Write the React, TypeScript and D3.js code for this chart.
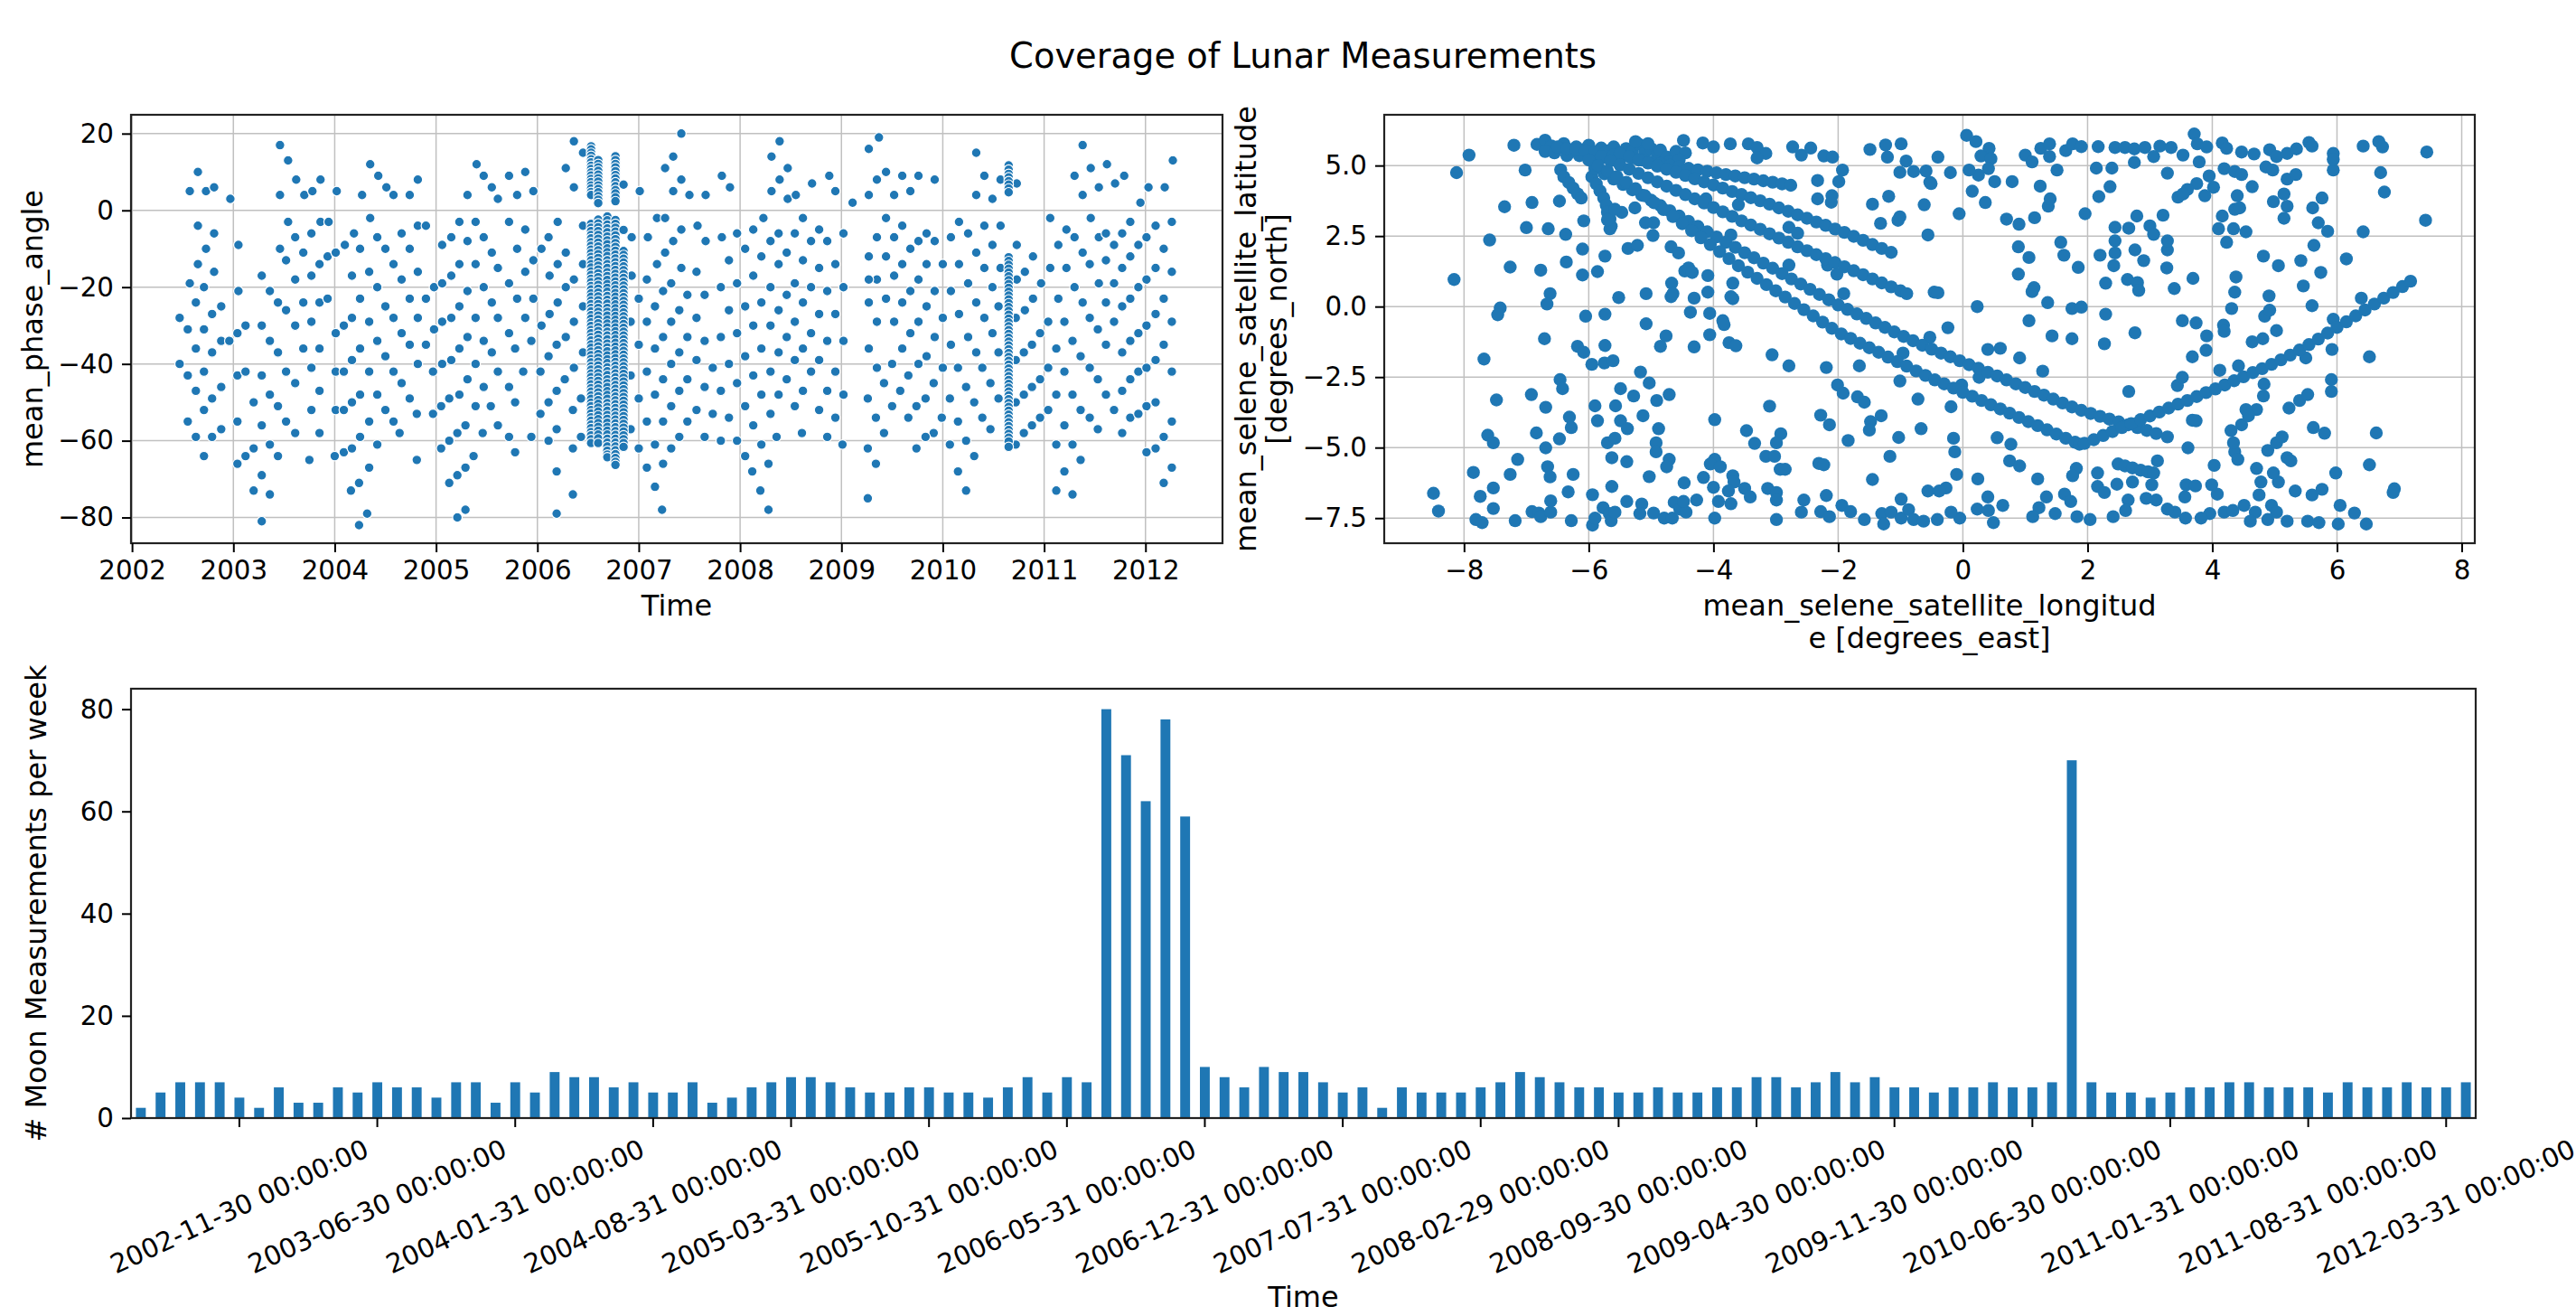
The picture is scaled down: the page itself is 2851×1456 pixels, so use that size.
import React, { useEffect, useRef } from 'react';
import * as d3 from 'd3';

const BLUE = '#1f77b4';
const FONT = "'DejaVu Sans', sans-serif";
const chartTitle = 'Coverage of Lunar Measurements';

// ---------- top left: mean phase angle vs time  [decimal year, degrees] ----------
const phase2002to2005: [number, number][] = [
  [2002.65,10],[2002.57,5],[2002.73,5],[2002.81,6],[2002.97,3],
  [2003.46,17],[2003.54,13],[2003.62,8],[2003.46,4],[2003.70,4],[2003.78,5],[2003.86,8],[2004.02,5],
  [2004.35,12],[2004.43,9],[2004.51,6],[2004.58,4],[2004.27,4],[2004.74,4],[2004.82,8],
  [2005.40,12],[2005.47,9],[2005.55,6],[2005.61,3],[2005.31,4],
  [2002.65,-4],[2002.81,-6],[2002.73,-10],[2002.65,-14],[2002.81,-16],[2002.57,-19],[2002.71,-20],[2002.63,-24],[2002.88,-25],[2002.79,-27],
  [2002.47,-28],[2002.55,-31],[2002.71,-31],[2002.63,-36],[2002.88,-34],[2002.96,-34],[2002.79,-37],[2002.47,-40],[2002.55,-43],[2002.71,-42],
  [2002.63,-47],[2002.88,-46],[2002.79,-49],[2002.71,-52],[2002.55,-55],[2002.63,-59],[2002.79,-59],[2002.88,-57],[2002.71,-64],
  [2003.05,-9],[2003.05,-21],[2003.12,-30],[2003.04,-32],[2003.04,-43],[2003.12,-42],[2003.20,-50],[2003.04,-55],[2003.20,-62],[2003.12,-64],
  [2003.04,-66],[2003.28,-69],[2003.20,-73],[2003.36,-74],[2003.28,-81],[2003.28,-17],[2003.36,-21],[2003.28,-30],[2003.36,-34],[2003.28,-43],
  [2003.36,-48],[2003.28,-56],[2003.36,-61],[2003.44,-24],[2003.52,-26],[2003.44,-37],[2003.52,-42],[2003.44,-51],[2003.52,-55],[2003.44,-64],
  [2003.61,-58],[2003.61,-45],[2003.61,-30],[2003.61,-18],[2003.54,-3],[2003.61,-7],[2003.46,-10],[2003.52,-13],[2003.69,-11],[2003.69,-24],
  [2003.69,-36],[2003.77,-6],[2003.77,-17],[2003.77,-29],[2003.77,-41],[2003.77,-52],[2003.75,-65],[2003.85,-14],[2003.85,-24],[2003.85,-36],
  [2003.85,-47],[2003.85,-58],[2003.86,-3],[2003.94,-3],[2003.93,-12],[2003.93,-23],
  [2004.01,-11],[2004.10,-9],[2004.19,-6],[2004.01,-32],[2004.09,-30],[2004.17,-28],[2004.01,-42],[2004.09,-42],[2004.17,-39],[2004.01,-52],
  [2004.09,-52],[2004.17,-50],[2004.00,-64],[2004.09,-63],[2004.17,-62],[2004.16,-73],[2004.24,-71],[2004.24,-82],[2004.32,-79],[2004.25,-59],
  [2004.34,-67],[2004.34,-55],[2004.25,-48],[2004.25,-36],[2004.25,-23],[2004.25,-10],[2004.17,-17],[2004.34,-16],[2004.34,-29],[2004.34,-42],
  [2004.35,-2],[2004.42,-7],[2004.42,-20],[2004.42,-34],[2004.42,-48],[2004.42,-61],[2004.50,-10],[2004.50,-25],[2004.50,-38],[2004.50,-52],
  [2004.58,-14],[2004.58,-28],[2004.58,-42],[2004.58,-55],[2004.64,-58],[2004.66,-6],[2004.66,-18],[2004.66,-32],[2004.66,-45],[2004.74,-10],
  [2004.74,-23],[2004.74,-35],[2004.74,-49],[2004.82,-16],[2004.82,-28],[2004.82,-40],[2004.81,-53],[2004.81,-65],[2004.82,-4],[2004.90,-4],
  [2004.90,-23],[2004.90,-35],[2004.97,-42],[2004.97,-53],[2004.98,-20],[2004.98,-31],
  [2005.06,-9],[2005.15,-7],[2005.23,-3],[2005.06,-19],[2005.15,-17],[2005.23,-14],[2005.06,-29],[2005.15,-28],[2005.23,-25],[2005.06,-40],
  [2005.15,-39],[2005.23,-36],[2005.05,-51],[2005.13,-49],[2005.23,-48],[2005.05,-62],[2005.13,-60],[2005.21,-58],[2005.29,-56],[2005.37,-64],
  [2005.29,-67],[2005.21,-69],[2005.13,-71],[2005.21,-80],[2005.29,-78],[2005.31,-8],[2005.31,-21],[2005.31,-33],[2005.31,-44],[2005.39,-3],
  [2005.39,-14],[2005.39,-28],[2005.39,-40],[2005.39,-51],[2005.46,-58],[2005.47,-7],[2005.47,-20],[2005.47,-34],[2005.47,-46],[2005.54,-51],
  [2005.55,-11],[2005.55,-24],[2005.55,-37],[2005.61,-15],[2005.61,-28],[2005.61,-42],[2005.61,-56],
];

const phase2005to2009: [number, number][] = [
  [2005.72,9],[2005.80,4],[2005.88,10],[2005.96,5],
  [2005.72,-3],[2005.88,-5],[2005.80,-10],[2005.96,-13],[2005.88,-16],[2005.72,-19],[2005.80,-23],[2005.96,-23],[2005.88,-28],[2005.72,-32],
  [2005.78,-36],[2005.94,-34],[2005.86,-42],[2005.72,-46],[2005.78,-50],[2006.03,-42],[2006.03,-53],[2005.94,-59],[2005.72,-59],[2005.78,-63],
  [2006.04,-10],[2006.11,-7],[2006.20,-3],
  [2006.36,18],[2006.28,11],[2006.36,6],[2006.45,15],[2007.01,5],
  [2006.28,-11],[2006.20,-14],[2006.12,-17],[2006.36,-18],[2006.45,-14],[2006.28,-20],[2006.20,-24],[2006.12,-27],[2006.04,-30],[2006.36,-29],
  [2006.45,-25],[2006.28,-33],[2006.19,-35],[2006.11,-38],[2006.36,-41],[2006.45,-37],[2006.27,-44],[2006.19,-47],[2006.11,-50],[2006.35,-52],
  [2006.43,-49],[2006.19,-57],[2006.11,-60],[2006.35,-62],[2006.43,-59],[2006.19,-68],[2006.35,-74],[2006.19,-79],
  [2006.45,-4],[2006.93,-7],[2006.93,-17],[2006.92,-29],[2006.92,-43],[2006.92,-57],[2007.00,-23],[2007.00,-35],[2007.00,-49],[2007.00,-62],
  [2007.42,20],[2007.34,14],[2007.26,11],[2007.42,8],[2007.34,5],[2007.50,4],[2007.66,4],[2007.82,9],[2007.90,6],
  [2007.18,-2],[2007.26,-2],[2007.09,-7],[2007.42,-5],[2007.34,-8],[2007.26,-11],[2007.18,-14],[2007.08,-18],[2007.32,-19],[2007.42,-15],
  [2007.58,-4],[2007.66,-8],[2007.82,-7],[2007.97,-6],[2007.89,-13],[2007.57,-16],[2007.24,-21],[2007.16,-25],[2007.08,-29],[2007.32,-29],
  [2007.40,-26],[2007.48,-22],[2007.65,-22],[2007.81,-20],[2007.97,-19],[2007.57,-28],[2007.89,-26],[2007.24,-33],[2007.16,-36],[2007.08,-42],
  [2007.32,-40],[2007.40,-37],[2007.48,-33],[2007.65,-34],[2007.81,-33],[2007.97,-32],[2007.57,-39],[2007.73,-41],[2007.89,-40],[2007.24,-44],
  [2007.16,-48],[2007.08,-55],[2007.32,-51],[2007.40,-47],[2007.48,-44],[2007.65,-46],[2007.81,-47],[2007.97,-45],[2007.57,-52],[2007.73,-53],
  [2007.89,-54],[2007.24,-55],[2007.16,-61],[2007.08,-67],[2007.32,-62],[2007.40,-59],[2007.48,-55],[2007.65,-59],[2007.81,-60],[2007.97,-60],
  [2007.24,-66],[2007.16,-72],[2007.23,-78],
  [2008.39,18],[2008.31,14],[2008.47,11],[2008.39,8],[2008.31,5],[2008.47,3],[2008.55,4],[2008.71,7],[2008.88,9],[2008.94,5],[2009.11,2],
  [2008.23,-2],[2008.13,-5],[2008.38,-6],[2008.30,-8],[2008.05,-10],[2008.21,-12],[2008.46,-11],[2008.38,-14],[2008.13,-17],[2008.30,-20],
  [2008.54,-6],[2008.62,-2],[2008.78,-5],[2008.70,-8],[2008.86,-8],[2008.62,-13],[2008.78,-15],[2008.94,-14],[2008.54,-19],[2008.70,-20],
  [2008.86,-21],[2009.02,-6],[2009.02,-20],[2008.05,-25],[2008.21,-24],[2008.38,-26],[2008.46,-22],[2008.30,-30],[2008.13,-30],[2008.54,-29],
  [2008.62,-24],[2008.78,-27],[2008.94,-27],[2008.70,-32],[2008.05,-38],[2008.21,-36],[2008.38,-37],[2008.46,-33],[2008.30,-42],[2008.13,-43],
  [2008.54,-39],[2008.62,-36],[2008.78,-39],[2008.86,-34],[2009.02,-34],[2008.70,-42],[2008.94,-42],[2008.05,-51],[2008.21,-48],[2008.38,-48],
  [2008.46,-44],[2008.30,-53],[2008.13,-56],[2008.54,-51],[2008.62,-47],[2008.78,-52],[2008.86,-47],[2008.94,-54],[2009.02,-48],[2008.61,-58],
  [2008.05,-64],[2008.12,-68],[2008.20,-73],[2008.28,-78],[2008.21,-61],[2008.28,-66],[2008.36,-59],[2008.86,-59],[2009.01,-61],
];

const phase2009to2012: [number, number][] = [
  [2009.37,19],[2009.27,16],[2009.44,10],[2009.35,8],[2009.27,4],[2009.52,4],[2009.60,9],[2009.68,5],[2009.76,9],[2009.92,8],
  [2010.33,15],[2010.41,9],[2010.33,4],[2010.49,3],[2010.57,8],[2010.73,7],
  [2011.38,17],[2011.30,9],[2011.46,11],[2011.38,4],[2011.54,6],[2011.62,12],[2011.70,7],[2011.79,9],[2011.95,2],[2012.03,6],[2012.19,6],[2012.27,13],
  [2009.44,-2],[2009.35,-7],[2009.27,-12],[2009.52,-7],[2009.60,-4],[2009.68,-10],[2009.76,-8],[2009.84,-6],[2009.92,-8],[2009.44,-12],
  [2009.60,-14],[2009.35,-18],[2009.27,-18],[2009.52,-17],[2009.76,-18],[2009.84,-14],[2009.68,-21],[2009.60,-24],[2009.44,-23],[2009.27,-24],
  [2009.92,-21],[2009.84,-25],[2009.76,-29],[2009.68,-32],[2009.52,-29],[2009.35,-29],[2009.27,-36],[2009.60,-36],[2009.92,-33],[2009.84,-38],
  [2009.76,-40],[2009.66,-43],[2009.50,-40],[2009.35,-41],[2009.42,-45],[2009.58,-47],[2009.91,-45],[2009.26,-49],[2009.83,-49],[2009.74,-51],
  [2009.66,-54],[2009.50,-51],[2009.34,-54],[2009.42,-58],[2009.91,-58],[2009.83,-59],[2009.74,-62],[2009.26,-62],[2009.34,-66],[2009.26,-75],
  [2009.99,-54],[2010.00,-14],[2010.00,-28],[2010.00,-41],
  [2010.08,-7],[2010.16,-3],[2010.25,-6],[2010.33,-11],[2010.41,-4],[2010.49,-9],[2010.57,-4],[2010.73,-9],[2010.08,-21],[2010.16,-14],
  [2010.25,-19],[2010.33,-24],[2010.41,-15],[2010.49,-20],[2010.57,-15],[2010.81,-16],[2010.89,-12],[2010.73,-18],[2010.08,-35],[2010.16,-27],
  [2010.25,-33],[2010.33,-37],[2010.41,-28],[2010.49,-32],[2010.55,-25],[2010.81,-26],[2010.89,-23],[2010.97,-19],[2010.72,-28],[2010.07,-49],
  [2010.15,-41],[2010.23,-46],[2010.31,-50],[2010.39,-41],[2010.47,-45],[2010.55,-37],[2010.80,-37],[2010.88,-35],[2010.96,-32],[2010.72,-39],
  [2010.15,-55],[2010.23,-60],[2010.31,-64],[2010.39,-54],[2010.47,-57],[2010.55,-49],[2010.80,-48],[2010.88,-46],[2010.96,-44],[2010.72,-50],
  [2010.15,-68],[2010.23,-73],[2010.07,-61],[2010.80,-58],[2010.88,-56],[2010.96,-54],[2010.72,-61],
  [2011.06,-2],[2011.14,-9],[2011.22,-5],[2011.30,-7],[2011.38,-11],[2011.46,-2],[2011.06,-15],[2011.22,-15],[2011.30,-20],[2011.38,-24],
  [2011.45,-14],[2011.14,-23],[2011.04,-29],[2011.20,-29],[2011.28,-34],[2011.36,-38],[2011.45,-28],[2011.12,-36],[2011.04,-41],[2011.20,-42],
  [2011.28,-48],[2011.36,-52],[2011.45,-41],[2011.53,-31],[2011.12,-48],[2011.04,-52],[2011.20,-56],[2011.28,-61],[2011.36,-65],[2011.45,-54],
  [2011.53,-44],[2011.53,-57],[2011.12,-61],[2011.20,-68],[2011.12,-73],[2011.28,-74],[2011.54,-7],[2011.54,-19],[2011.61,-6],[2011.69,-9],
  [2011.61,-13],[2011.69,-19],[2011.61,-24],[2011.69,-29],[2011.61,-35],[2011.69,-52],[2011.61,-48],[2011.77,-6],[2011.77,-15],[2011.77,-25],
  [2011.77,-37],[2011.77,-47],[2011.77,-58],[2011.85,-3],[2011.85,-12],[2011.85,-23],[2011.85,-34],[2011.85,-44],[2011.85,-54],[2011.93,-9],
  [2011.93,-20],[2011.93,-32],[2011.93,-42],[2011.93,-53],[2012.01,-7],[2012.01,-18],[2012.01,-30],[2012.01,-41],[2012.01,-51],[2012.01,-63],
  [2012.10,-4],[2012.10,-15],[2012.10,-27],[2012.10,-39],[2012.10,-50],[2012.10,-62],[2012.18,-10],[2012.18,-23],[2012.18,-35],[2012.18,-59],
  [2012.18,-71],[2012.26,-3],[2012.26,-16],[2012.26,-29],[2012.26,-42],[2012.26,-55],[2012.26,-67],
];

// dense campaign months: stacked measurements at (nearly) one time
const denseTimes = [2006.53, 2006.60, 2006.69, 2006.77, 2006.85, 2010.65];
const dense2006Jul = [16.7,15.9,15.0,14.2,13.3,12.5,11.6,10.8,9.9,9.1,8.2,7.4,6.5,5.7,4.8,4.0,
  -3.5,-4.5,-5.4,-6.4,-7.3,-8.3,-9.2,-10.2,-11.1,-12.1,-13.0,-14.0,-14.9,-15.9,-16.8,-17.8,-18.7,-19.7,-20.6,-21.6,
  -22.5,-23.5,-24.4,-25.4,-26.3,-27.3,-28.2,-29.2,-30.1,-31.1,-32.0,-33.0,-33.9,-34.9,-35.8,-36.8,-37.7,-38.7,-39.6,
  -40.6,-41.5,-42.5,-43.4,-44.4,-45.3,-46.3,-47.2,-48.2,-49.1,-50.1,-51.0,-52.0,-52.9,-53.9,-54.8,-55.8,-56.7,-57.7,
  -58.6,-59.6,-60.6];
const dense2006Aug = [13.1,12.1,11.2,10.3,9.3,8.4,7.5,6.5,5.6,4.7,3.7,2.8,1.9,
  -2.4,-3.4,-4.4,-5.4,-6.4,-7.4,-8.4,-9.4,-10.4,-11.4,-12.4,-13.4,-14.4,-15.4,-16.4,-17.4,-18.4,-19.4,-20.4,-21.4,
  -22.4,-23.4,-24.4,-25.4,-26.4,-27.4,-28.4,-29.4,-30.4,-31.4,-32.4,-33.4,-34.4,-35.4,-36.4,-37.4,-38.4,-39.4,-40.4,
  -41.4,-42.4,-43.4,-44.4,-45.4,-46.4,-47.4,-48.4,-49.4,-50.4,-51.4,-52.4,-53.4,-54.4,-55.4,-56.4,-57.4,-58.4,-59.4,-60.6];
const dense2006Sep = [-1.6,-2.6,-3.7,-4.7,-5.7,-6.8,-7.8,-8.8,-9.9,-10.9,-11.9,-13.0,-14.0,-15.0,-16.1,-17.1,-18.1,
  -19.2,-20.2,-21.2,-22.3,-23.3,-24.3,-25.4,-26.4,-27.4,-28.5,-29.5,-30.5,-31.6,-32.6,-33.6,-34.7,-35.7,-36.7,-37.8,
  -38.8,-39.8,-40.9,-41.9,-42.9,-44.0,-45.0,-46.0,-47.1,-48.1,-49.1,-50.2,-51.2,-52.2,-53.3,-54.3,-55.3,-56.4,-57.4,
  -58.4,-59.5,-60.5,-61.5,-62.6,-63.6,-64.3];
const dense2006Oct = [14.1,13.1,12.1,11.2,10.2,9.2,8.3,7.3,6.3,5.3,4.4,3.4,2.4,
  -2.5,-3.5,-4.5,-5.5,-6.5,-7.5,-8.5,-9.5,-10.5,-11.5,-12.5,-13.5,-14.5,-15.5,-16.5,-17.5,-18.5,-19.5,-20.5,-21.5,
  -22.5,-23.5,-24.5,-25.5,-26.5,-27.5,-28.5,-29.5,-30.5,-31.5,-32.5,-33.5,-34.5,-35.5,-36.5,-37.5,-38.5,-39.5,-40.5,
  -41.5,-42.5,-43.5,-44.5,-45.5,-46.5,-47.5,-48.5,-49.5,-50.5,-51.5,-52.5,-53.5,-54.5,-55.5,-56.5,-57.5,-58.5,-59.5,
  -60.5,-61.5,-62.5,-63.5,-64.5,-65.5,-66.3];
const dense2006Nov = [6.7,-5.1,-10.6,-11.6,-12.6,-13.6,-14.6,-15.6,-16.6,-17.6,-18.6,-19.6,-20.6,-21.6,-22.6,-23.6,
  -24.6,-25.6,-26.6,-27.6,-28.6,-29.6,-30.6,-31.6,-32.6,-33.6,-34.6,-35.6,-36.6,-37.6,-38.6,-39.6,-40.6,-41.6,-42.6,
  -43.6,-44.6,-45.6,-46.6,-47.6,-48.6,-49.6,-50.6,-51.6,-52.6,-53.6,-54.6,-55.6,-56.6,-57.6,-58.6,-59.6,-60.6,-61.6];
const dense2010Aug = [11.7,10.6,9.5,8.6,7.6,6.7,5.7,4.7,
  -12.2,-13.2,-14.2,-15.2,-16.2,-17.2,-18.2,-19.2,-20.2,-21.2,-22.2,-23.2,-24.2,-25.2,-26.2,-27.2,-28.2,-29.2,-30.2,
  -31.2,-32.2,-33.2,-34.2,-35.2,-36.2,-37.2,-38.2,-39.2,-40.2,-41.2,-42.2,-43.2,-44.2,-45.2,-46.2,-47.2,-48.2,-49.2,
  -50.2,-51.2,-52.2,-53.2,-54.2,-55.2,-56.2,-57.2,-58.2,-59.2,-60.2,-61.6];
const denseColumns = [dense2006Jul, dense2006Aug, dense2006Sep, dense2006Oct, dense2006Nov, dense2010Aug];

// ---------- top right: selene satellite longitude / latitude [deg east, deg north] ----------
const libTopCluster: [number, number][] = [
  [-6.83,5.75],[-6.7,5.9],[-6.6,5.7],[-6.5,5.6],[-6.4,5.78],[-6.3,5.5],[-6.2,5.66],[-6.1,5.56],[-6.0,5.72],[-5.9,5.45],
  [-5.8,5.62],[-5.7,5.52],[-5.6,5.66],[-5.5,5.45],[-5.4,5.6],[-5.3,5.5],[-5.2,5.76],[-5.1,5.45],[-5.0,5.6],[-4.9,5.4],
  [-4.85,5.55],[-6.7,5.5],[-6.55,5.45],[-6.35,5.35],[-6.15,5.35],[-5.95,5.3],[-5.75,5.3],[-5.55,5.25],[-4.75,5.3],[-4.7,5.15],
  [-4.6,5.5],[-4.45,5.45],[-5.25,5.85],[-5.05,5.78],[-4.55,5.2],
  [-6.45,4.85],[-6.4,4.6],[-6.32,4.4],[-6.25,4.2],[-6.18,4.0],[-6.12,3.85],[-5.95,4.6],[-5.88,4.35],[-5.82,4.1],[-5.76,3.85],
  [-5.72,3.6],[-5.7,3.35],[-5.66,3.1],[-5.64,2.85],
];
const libWest: [number, number][] = [
  [-7.92,5.37],[-8.12,4.75],[-7.2,5.72],[-7.02,4.84],[-8.16,0.96],[-7.35,3.54],[-6.91,3.69],[-6.47,3.74],[-7.0,2.8],[-6.65,2.76],
  [-6.37,2.56],[-7.59,2.36],[-6.08,3.04],[-7.26,1.4],[-6.77,1.29],[-6.36,1.58],[-6.1,2.04],[-6.1,1.12],[-5.86,1.24],[-5.74,1.79],
  [-6.62,0.46],[-6.67,0.09],[-7.42,-0.05],[-7.46,-0.29],[-6.05,-0.34],[-5.74,-0.27],[-5.52,0.32],[-5.08,0.46],[-4.67,0.83],[-4.68,0.35],
  [-4.31,0.3],[-4.37,-0.2],[-4.06,-0.24],[-4.09,0.51],[-4.46,1.26],[-4.09,1.1],[-3.69,0.83],[-3.69,0.28],[-3.85,-0.5],[-3.83,-0.64],
  [-5.08,-0.61],[-6.71,-1.14],[-7.68,-1.86],[-6.18,-1.41],[-6.08,-1.62],[-5.95,-2.05],[-5.75,-2.0],[-5.61,-1.92],[-5.74,-1.38],[-4.76,-1.04],
  [-4.85,-1.41],[-4.31,-1.43],[-4.06,-1.0],[-3.75,-1.28],[-3.64,-1.39],[-3.06,-1.71],[-2.79,-2.1],[-2.19,-2.16],[-1.66,-2.1],[-0.96,-1.65],
  [-6.46,-2.59],[-6.42,-2.91],[-6.92,-3.12],[-7.48,-3.31],[-6.69,-3.57],[-5.9,-3.52],[-5.57,-3.52],[-5.86,-4.05],[-5.49,-4.05],[-5.38,-4.33],
  [-5.17,-2.32],[-5.03,-2.71],[-5.49,-2.91],[-5.28,-3.17],[-4.91,-3.33],[-4.71,-3.12],[-5.13,-3.87],[-4.88,-4.33],[-6.31,-3.92],[-6.28,-4.29],
  [-6.84,-4.48],[-6.47,-4.69],[-7.62,-4.56],[-7.53,-4.83],[-6.69,-5.01],[-7.14,-5.42],[-7.85,-5.88],[-7.26,-5.95],[-6.66,-5.68],[-6.62,-6.04],
  [-6.25,-5.95],[-5.63,-5.36],[-5.7,-4.83],[-5.58,-4.67],[-5.39,-5.5],[-4.92,-4.83],[-4.92,-5.15],[-4.71,-5.42],[-4.75,-5.68],[-5.03,-6.03],
  [-4.47,-6.25],[-3.98,-4.01],[-3.47,-4.4],[-3.34,-4.85],[-3.1,-3.53],[-2.92,-4.51],[-2.99,-4.83],[-3.16,-5.31],[-2.93,-5.77],[-2.85,-5.77],
  [-2.28,-3.85],[-2.14,-4.19],[-1.84,-4.75],[-1.48,-4.08],[-1.5,-4.38],[-1.31,-3.87],[-1.03,-4.64],[-1.17,-5.31],[-1.45,-6.13],[-2.31,-5.56],
  [-2.23,-5.61],[-2.01,-2.78],[-1.92,-3.07],[-1.69,-3.2],[-1.58,-3.39],[-1.01,-2.64],[-0.72,-3.28],[-0.67,-4.33],[-0.56,-6.54],[-0.99,-6.83],
  [-3.02,-5.31],
  [-8.49,-6.62],[-8.41,-7.25],[-7.74,-6.73],[-7.53,-7.16],[-7.53,-6.43],[-7.81,-7.55],[-7.71,-7.66],[-7.18,-7.59],[-6.91,-7.27],[-6.8,-7.32],
  [-6.77,-7.45],[-6.61,-7.29],[-6.61,-6.89],[-6.28,-7.59],[-6.33,-6.57],[-5.94,-7.75],[-5.9,-7.5],[-5.94,-6.67],[-5.77,-7.13],[-5.67,-7.34],
  [-5.64,-7.59],[-5.58,-7.29],[-5.63,-6.38],[-5.39,-6.91],[-5.15,-7.0],[-5.18,-7.34],[-4.96,-7.32],[-4.79,-7.5],[-4.66,-7.5],[-4.63,-6.94],
  [-4.54,-7.18],[-4.44,-7.29],[-4.48,-6.91],[-4.27,-6.86],[-3.98,-7.5],[-4.0,-6.41],[-3.98,-5.42],[-4.16,-6.06],[-4.05,-5.58],[-3.89,-5.68],
  [-3.92,-6.91],[-3.72,-6.99],[-3.69,-6.0],[-3.67,-6.22],[-3.76,-6.54],[-3.5,-6.45],[-3.41,-6.75],[-3.13,-6.45],[-2.99,-6.59],[-2.99,-7.55],
  [-2.99,-6.86],[-2.59,-7.29],[-2.55,-6.86],[-2.28,-7.27],[-2.19,-6.7],[-2.14,-7.45],[-1.94,-7.05],[-1.8,-7.27],[-1.58,-7.55],[-1.3,-7.34],
  [-1.27,-7.71],[-1.15,-7.29],[-0.99,-7.5],[-0.87,-7.2],[-0.79,-7.55],[-0.63,-7.61],
  [-4.48,5.89],[-4.17,5.8],[-4.0,5.66],[-3.73,5.77],[-3.44,5.77],[-3.3,5.64],[-3.16,5.43],[-3.3,5.27],[-2.73,5.66],[-2.59,5.37],
  [-2.44,5.62],[-2.23,5.34],[-2.09,5.3],[-1.93,4.84],[-1.99,4.43],[-2.33,4.47],[-2.33,3.82],[-2.11,3.7],[-2.1,3.93],[-1.49,5.57],
  [-1.24,5.73],[-1.21,5.3],[-0.99,5.77],[-0.91,5.16],[-1.01,4.76],[-0.79,4.79],[-0.59,4.81],[-0.53,4.41],[-1.19,3.91],[-1.45,3.63],
  [-1.32,2.95],[-1.01,3.18],[-1.04,3.06],[-0.62,3.61],[-0.56,2.54],[-2.17,1.47],[-2.02,1.15],[-1.91,0.46],[-0.46,0.51],[-0.53,-1.09],
  [-2.79,1.47],[-2.79,2.81],[-2.65,2.6],[-3.72,2.54],[-4.12,3.82],[-3.6,3.61],[-4.96,2.97],[-4.97,2.52],[-5.37,2.06],[-5.22,2.17],
  [-5.66,2.76],[-5.7,3.08],[-5.47,3.34],[-5.58,3.45],[-5.26,3.5],[-5.09,2.97],[-4.68,2.12],[-4.56,1.9],[-4.4,1.37],[-4.34,1.21],
  [-4.65,0.46],[-3.72,0.35],
];
const libEast: [number, number][] = [
  [0.06,6.07],[0.21,5.85],[0.42,5.61],[0.29,5.34],[0.45,5.24],[0.41,4.89],[0.25,4.66],[0.1,4.84],[-0.4,5.3],[-0.2,4.75],
  [-0.51,4.36],[-0.06,3.29],[0.15,4.09],[0.36,3.69],[0.51,4.43],[0.79,4.43],[0.7,3.1],[0.9,2.92],[1.15,3.15],[1.24,4.27],
  [1.37,3.56],[1.4,3.82],[1.51,4.84],[1.0,5.37],[1.11,5.13],[1.25,5.61],[1.39,5.77],[1.39,5.32],[1.65,5.53],[1.76,5.77],
  [1.9,5.67],[2.17,5.67],[2.14,4.91],[2.39,4.91],[2.36,4.25],[2.18,3.9],[1.96,3.29],[2.44,5.64],[2.6,5.64],[2.75,5.59],
  [2.75,5.11],[2.92,5.64],[3.06,5.32],[3.16,5.69],[3.34,5.64],[3.53,5.37],[3.28,4.73],[3.71,6.12],[3.76,5.77],[3.91,5.66],
  [3.79,5.13],[3.95,4.63],[4.02,4.23],[3.75,4.36],[3.88,3.93],[3.6,4.15],[3.45,3.88],[3.53,3.99],[4.16,5.8],[4.23,5.61],
  [4.19,4.89],[4.36,4.79],[4.47,5.48],[4.67,5.41],[4.47,4.68],[4.64,4.25],[4.4,3.93],[4.36,3.45],[4.44,3.5],[4.16,3.21],
  [4.1,2.76],[4.34,2.76],[4.54,2.65],[4.23,2.28],[4.92,5.56],[5.03,5.32],[5.2,5.43],[5.35,5.59],[5.55,5.82],[5.6,5.69],
  [4.86,4.95],[4.97,4.84],[5.2,4.52],[5.34,4.68],[5.15,3.99],[4.98,3.72],[5.2,3.56],[5.15,3.13],[5.61,3.5],[5.76,3.85],
  [5.7,2.97],[5.85,2.67],[5.63,2.17],[5.42,1.63],[5.74,1.21],[5.46,0.73],[5.6,0.03],[5.94,5.43],[5.94,4.84],[5.94,5.21],
  [6.42,5.69],[6.67,5.85],[6.73,5.66],[6.7,4.75],[6.76,4.06],[6.42,2.65],[6.15,1.69],[6.39,0.3],[7.44,5.48],[7.42,3.06],
  [4.82,1.79],[5.06,1.45],[4.91,0.38],[4.84,-0.34],[4.92,-0.13],[5.03,-0.85],[4.38,1.05],[4.36,0.51],[4.31,-0.07],[4.18,-0.66],
  [3.91,-1.04],[3.9,-1.55],[3.68,-1.78],[4.64,-1.25],[4.81,-1.14],[4.19,-0.88],[3.52,-0.5],[3.74,-0.58],[3.39,0.64],[3.69,1.0],
  [3.27,1.37],[3.28,2.01],[3.28,2.33],[2.9,1.63],[2.76,2.01],[2.66,2.78],[2.44,2.81],[3.0,2.86],[3.06,2.56],[2.79,3.21],
  [3.21,3.24],[2.44,2.33],[2.44,1.9],[2.2,1.82],[2.42,1.45],[2.64,0.96],[2.8,0.85],[2.82,0.57],[2.29,0.83],[1.85,1.39],
  [1.62,1.82],[1.57,2.28],[1.06,1.74],[0.89,2.12],[0.89,1.15],[1.14,0.67],[1.11,0.53],[1.36,0.14],[1.75,-0.07],[1.9,-0.02],
  [2.29,-0.27],[2.76,-0.93],[2.27,-1.32],[1.75,-1.14],[1.43,-1.04],[1.06,-0.5],[0.91,-1.82],[0.4,-1.52],[0.6,-1.48],[0.23,0.0],
  [-0.24,-0.75],[-0.4,0.49],[1.28,-2.29],[0.26,-2.51],[-0.02,-2.78],[2.66,-3.01],[3.44,-2.8],[3.52,-2.51],[3.68,-4.03],[3.61,-5.01],
  [4.12,-2.26],[4.42,-2.1],[4.83,-2.75],[4.82,-3.17],[4.71,-3.65],[5.91,-2.59],[5.91,-3.01],[5.92,-1.52],[5.94,-0.45],[5.5,-1.82],
  [5.4,-3.33],[5.53,-3.12],[5.62,-4.29],[5.8,-4.49],[6.52,-1.78],[6.63,-4.48],[6.52,-5.61],[6.92,-6.46],[6.9,-6.59],[5.98,-5.9],
  [6.05,-7.05],[6.02,-7.71],[6.28,-7.32],[6.47,-7.71],[5.6,-6.68],[5.76,-6.48],[5.33,-6.54],[5.06,-6.22],[4.98,-5.9],[4.78,-6.22],
  [4.71,-5.74],[4.75,-6.68],[4.95,-7.05],[5.03,-7.29],[5.2,-7.61],[5.53,-7.61],[5.71,-7.66],[4.89,-7.55],[4.69,-7.29],[4.61,-7.61],
  [4.51,-7.05],[4.19,-7.29],[4.33,-7.23],[3.96,-7.34],[3.82,-7.5],[3.57,-7.5],[3.4,-7.29],[3.28,-7.18],[3.56,-6.75],[3.58,-6.32],
  [3.73,-6.36],[3.99,-6.32],[4.08,-6.65],[4.03,-5.63],[4.36,-5.15],[4.41,-5.42],[4.3,-4.4],[4.34,-4.83],[4.47,-4.19],[4.54,-3.65],
  [4.58,-3.87],[4.89,-5.1],[5.03,-4.83],[5.12,-4.62],[5.2,-5.36],[5.26,-5.47],[5.23,-3.6],[3.74,-4.05],[2.72,-6.22],[3.03,-6.32],
  [3.12,-5.47],[2.65,-6.86],[2.61,-7.23],[2.94,-6.8],[3.1,-6.86],[2.41,-7.45],[2.16,-5.9],[2.16,-6.38],[2.27,-6.59],[2.47,-6.3],
  [2.04,-7.55],[1.83,-7.45],[1.82,-5.74],[1.76,-6.0],[1.63,-6.65],[1.73,-6.91],[1.34,-6.75],[1.22,-7.13],[1.12,-7.45],[1.48,-7.34],
  [1.2,-6.11],[0.77,-4.88],[0.75,-5.47],[0.91,-5.65],[0.55,-4.65],[0.24,-6.11],[0.4,-6.75],[0.23,-7.18],[0.41,-7.23],[0.49,-7.66],
  [0.64,-7.05],[-0.05,-7.5],[-0.19,-7.29],[-0.41,-7.55],[-0.1,-5.95],[-0.13,-5.15],[-0.15,-4.67],[-0.19,-3.55],[-0.27,-6.43],[-0.38,-6.54],
  [2.49,-5.58],[2.6,-5.65],[2.72,-5.72],[2.85,-5.8],[2.97,-5.86],[3.06,-5.9],
];
// dense campaign tracks
const trackAlpha: [number, number][] = [
  [-6.5,5.66],[-6.35,5.61],[-6.2,5.57],[-6.05,5.52],[-5.9,5.48],[-5.75,5.43],[-5.6,5.38],[-5.45,5.33],[-5.3,5.27],[-5.15,5.2],
  [-5.0,5.12],[-4.85,5.07],[-4.7,5.01],[-4.55,4.96],[-4.4,4.9],[-4.25,4.85],[-4.1,4.8],[-3.95,4.74],[-3.8,4.68],[-3.65,4.63],
  [-3.5,4.57],[-3.35,4.52],[-3.2,4.46],[-3.05,4.41],[-2.9,4.35],[-2.76,4.3],
];
const trackA2: [number, number][] = [
  [-5.5,5.42],[-5.35,5.31],[-5.2,5.2],[-5.05,5.09],[-4.9,4.98],[-4.75,4.87],[-4.6,4.76],[-4.45,4.65],[-4.3,4.53],[-4.15,4.42],
  [-4.0,4.31],[-3.85,4.2],[-3.7,4.08],[-3.55,3.97],[-3.4,3.86],[-3.25,3.75],[-3.1,3.63],[-2.95,3.5],[-2.8,3.38],[-2.65,3.25],
  [-2.5,3.13],[-2.35,3.0],[-2.2,2.88],[-2.05,2.75],[-1.9,2.63],[-1.75,2.49],[-1.6,2.35],[-1.45,2.2],[-1.3,2.06],[-1.15,1.92],
];
const trackBeta: [number, number][] = [
  [-5.8,5.32],[-5.65,5.17],[-5.5,5.02],[-5.35,4.87],[-5.2,4.72],[-5.05,4.57],[-4.9,4.42],[-4.75,4.27],[-4.6,4.12],[-4.45,3.97],
  [-4.3,3.82],[-4.15,3.67],[-4.0,3.51],[-3.85,3.36],[-3.7,3.2],[-3.55,3.04],[-3.4,2.89],[-3.25,2.74],[-3.1,2.58],[-2.95,2.43],
  [-2.8,2.28],[-2.65,2.12],[-2.5,1.98],[-2.35,1.84],[-2.2,1.7],[-2.05,1.56],[-1.9,1.41],[-1.75,1.27],[-1.6,1.13],[-1.45,0.98],
  [-1.3,0.84],[-1.15,0.7],[-1.0,0.56],[-0.9,0.46],
];
const trackGamma: [number, number][] = [
  [-5.9,4.9],[-5.75,4.71],[-5.6,4.52],[-5.45,4.33],[-5.3,4.14],[-5.15,3.95],[-5.0,3.77],[-4.85,3.58],[-4.7,3.4],[-4.55,3.21],
  [-4.4,3.02],[-4.25,2.84],[-4.1,2.65],[-3.95,2.47],[-3.8,2.28],[-3.65,2.1],[-3.5,1.91],[-3.35,1.73],[-3.2,1.54],[-3.05,1.36],
  [-2.9,1.17],[-2.75,0.98],[-2.6,0.8],[-2.45,0.61],[-2.3,0.43],[-2.15,0.24],[-2.0,0.06],[-1.85,-0.1],[-1.7,-0.26],[-1.55,-0.42],
  [-1.4,-0.58],[-1.25,-0.74],[-1.1,-0.9],[-0.95,-1.06],[-0.8,-1.21],[-0.65,-1.37],[-0.5,-1.51],[-0.35,-1.65],[-0.2,-1.78],[-0.05,-1.92],
  [0.1,-2.06],[0.25,-2.19],[0.4,-2.33],[0.55,-2.46],[0.7,-2.6],[0.85,-2.74],[1.0,-2.87],[1.15,-3.01],[1.3,-3.14],[1.45,-3.28],
  [1.6,-3.42],[1.75,-3.56],[1.9,-3.68],[2.05,-3.79],[2.2,-3.89],[2.35,-3.99],[2.5,-4.09],[2.65,-4.19],[2.8,-4.29],[2.95,-4.39],
  [3.1,-4.5],[3.28,-4.62],
];
const trackDelta: [number, number][] = [
  [-6.0,5.2],[-5.85,5.0],[-5.7,4.81],[-5.55,4.61],[-5.4,4.41],[-5.25,4.18],[-5.1,3.93],[-4.95,3.68],[-4.8,3.44],[-4.65,3.19],
  [-4.5,2.94],[-4.35,2.69],[-4.2,2.44],[-4.05,2.2],[-3.9,1.95],[-3.75,1.7],[-3.6,1.45],[-3.45,1.22],[-3.3,1.0],[-3.15,0.78],
  [-3.0,0.56],[-2.85,0.34],[-2.7,0.11],[-2.55,-0.11],[-2.4,-0.33],[-2.25,-0.55],[-2.1,-0.77],[-1.95,-0.97],[-1.8,-1.13],[-1.65,-1.3],
  [-1.5,-1.46],[-1.35,-1.62],[-1.2,-1.79],[-1.05,-1.95],[-0.9,-2.11],[-0.75,-2.28],[-0.6,-2.44],[-0.45,-2.6],[-0.3,-2.74],[-0.15,-2.89],
  [0.0,-3.04],[0.15,-3.18],[0.3,-3.33],[0.45,-3.48],[0.6,-3.63],[0.75,-3.78],[0.9,-3.93],[1.05,-4.08],[1.2,-4.22],[1.35,-4.37],
  [1.5,-4.52],[1.65,-4.67],[1.8,-4.81],[1.87,-4.88],
];
const trackRise: [number, number][] = [
  [1.95,-4.85],[2.1,-4.72],[2.25,-4.57],[2.4,-4.43],[2.55,-4.29],[2.7,-4.15],[2.85,-4.01],[3.0,-3.88],[3.15,-3.74],[3.3,-3.6],
  [3.45,-3.46],[3.6,-3.33],[3.75,-3.19],[3.9,-3.05],[4.05,-2.92],[4.2,-2.78],[4.35,-2.63],[4.5,-2.49],[4.65,-2.34],[4.8,-2.2],
  [4.95,-2.05],[5.1,-1.89],[5.25,-1.72],[5.4,-1.54],[5.55,-1.35],[5.7,-1.15],[5.85,-0.94],[6.0,-0.74],[6.15,-0.54],[6.3,-0.33],
  [6.45,-0.12],[6.6,0.09],[6.75,0.3],[6.9,0.5],[7.05,0.71],[7.18,0.9],
];

// ---------- bottom: measurements per month ----------
const monthlyCounts = [2,5,7,7,7,4,2,6,3,3,6,5,7,6,6,4,7,7,3,7,5,9,8,8,6,7,5,5,7,3,4,6,7,8,8,7,6,5,5,6,6,5,5,4,6,8,5,8,7,
  80,71,62,78,59,10,8,6,10,9,9,7,5,6,2,6,5,5,5,6,7,9,8,7,6,6,5,5,6,5,5,6,6,8,8,6,7,9,7,8,6,6,5,6,6,7,6,6,7,70,7,
  5,5,4,5,6,6,7,7,6,6,6,5,7,6,6,7,6,6,7];
const barTickLabels = ['2002-11-30','2003-06-30','2004-01-31','2004-08-31','2005-03-31','2005-10-31','2006-05-31',
  '2006-12-31','2007-07-31','2008-02-29','2008-09-30','2009-04-30','2009-11-30','2010-06-30','2011-01-31','2011-08-31','2012-03-31'];

const W = 2851, H = 1456;
const P1 = { left: 145, right: 1353, top: 127, bottom: 601 };
const P2 = { left: 1532, right: 2739, top: 127, bottom: 601 };
const P3 = { left: 145, right: 2740, top: 762, bottom: 1237 };
const TICK = 29.3, LABEL = 32;
const GRID = '#c0c0c0';

function styleAxis(g: any) {
  g.attr('font-size', TICK).attr('font-family', FONT);
  g.select('.domain').remove();
  g.selectAll('.tick line').attr('stroke', '#000').attr('stroke-width', 2);
  g.selectAll('.tick text').attr('fill', '#000');
}

export default function App() {
  const ref = useRef<SVGSVGElement>(null);

  useEffect(() => {
    const svg = d3.select(ref.current);
    svg.selectAll('*').remove();
    svg.append('rect').attr('width', W).attr('height', H).attr('fill', '#fff');

    svg.append('text').attr('x', 1442).attr('y', 75).attr('text-anchor', 'middle')
      .attr('font-family', FONT).attr('font-size', 38.4).text(chartTitle);

    // ===== panel 1 =====
    const x1 = d3.scaleLinear().domain([2001.99, 2012.76]).range([P1.left, P1.right]);
    const y1 = d3.scaleLinear().domain([-86.7, 24.9]).range([P1.bottom, P1.top]);
    const g1 = svg.append('g');
    const years = d3.range(2002, 2013);
    const yt1 = [-80, -60, -40, -20, 0, 20];
    g1.selectAll('.gx').data(years).join('line')
      .attr('x1', d => x1(d)).attr('x2', d => x1(d)).attr('y1', P1.top).attr('y2', P1.bottom)
      .attr('stroke', GRID).attr('stroke-width', 1.5);
    g1.selectAll('.gy').data(yt1).join('line')
      .attr('x1', P1.left).attr('x2', P1.right).attr('y1', d => y1(d)).attr('y2', d => y1(d))
      .attr('stroke', GRID).attr('stroke-width', 1.5);
    const phaseAll = [...phase2002to2005, ...phase2005to2009, ...phase2009to2012];
    const densePts: [number, number][] = [];
    denseColumns.forEach((col, i) => col.forEach(v => densePts.push([denseTimes[i], v])));
    g1.append('g').selectAll('circle').data([...phaseAll, ...densePts]).join('circle')
      .attr('cx', d => x1(d[0])).attr('cy', d => y1(d[1])).attr('r', 5.3)
      .attr('fill', BLUE).attr('stroke', '#fff').attr('stroke-width', 1.2);
    g1.append('rect').attr('x', P1.left).attr('y', P1.top).attr('width', P1.right - P1.left)
      .attr('height', P1.bottom - P1.top).attr('fill', 'none').attr('stroke', '#222').attr('stroke-width', 2.2);
    g1.append('g').attr('transform', `translate(0,${P1.bottom})`)
      .call(d3.axisBottom(x1).tickValues(years).tickFormat(d3.format('d')).tickSize(10).tickPadding(9)).call(styleAxis);
    g1.append('g').attr('transform', `translate(${P1.left},0)`)
      .call(d3.axisLeft(y1).tickValues(yt1).tickSize(10).tickPadding(9)).call(styleAxis);
    g1.append('text').attr('x', (P1.left + P1.right) / 2).attr('y', 681).attr('text-anchor', 'middle')
      .attr('font-family', FONT).attr('font-size', LABEL).text('Time');
    g1.append('text').attr('transform', `translate(36,${(P1.top + P1.bottom) / 2}) rotate(-90)`)
      .attr('text-anchor', 'middle').attr('dominant-baseline', 'central')
      .attr('font-family', FONT).attr('font-size', LABEL).text('mean_phase_angle');

    // ===== panel 2 =====
    const x2 = d3.scaleLinear().domain([-9.28, 8.21]).range([P2.left, P2.right]);
    const y2 = d3.scaleLinear().domain([-8.39, 6.8]).range([P2.bottom, P2.top]);
    const g2 = svg.append('g');
    const xt2 = d3.range(-8, 9, 2);
    const yt2 = [-7.5, -5, -2.5, 0, 2.5, 5];
    g2.selectAll('.gx').data(xt2).join('line')
      .attr('x1', d => x2(d)).attr('x2', d => x2(d)).attr('y1', P2.top).attr('y2', P2.bottom)
      .attr('stroke', GRID).attr('stroke-width', 1.5);
    g2.selectAll('.gy').data(yt2).join('line')
      .attr('x1', P2.left).attr('x2', P2.right).attr('y1', d => y2(d)).attr('y2', d => y2(d))
      .attr('stroke', GRID).attr('stroke-width', 1.5);
    const libAll = [...libTopCluster, ...libWest, ...libEast, ...trackAlpha, ...trackA2, ...trackBeta,
      ...trackGamma, ...trackDelta, ...trackRise];
    g2.append('g').selectAll('circle').data(libAll).join('circle')
      .attr('cx', d => x2(d[0])).attr('cy', d => y2(d[1])).attr('r', 7.2).attr('fill', BLUE);
    g2.append('rect').attr('x', P2.left).attr('y', P2.top).attr('width', P2.right - P2.left)
      .attr('height', P2.bottom - P2.top).attr('fill', 'none').attr('stroke', '#222').attr('stroke-width', 2.2);
    g2.append('g').attr('transform', `translate(0,${P2.bottom})`)
      .call(d3.axisBottom(x2).tickValues(xt2).tickFormat(d3.format('d')).tickSize(10).tickPadding(9)).call(styleAxis);
    g2.append('g').attr('transform', `translate(${P2.left},0)`)
      .call(d3.axisLeft(y2).tickValues(yt2).tickFormat(d3.format('.1f')).tickSize(10).tickPadding(9)).call(styleAxis);
    const cx2 = (P2.left + P2.right) / 2;
    [['mean_selene_satellite_longitud', 681], ['e [degrees_east]', 717]].forEach(([t, yy]) => {
      g2.append('text').attr('x', cx2).attr('y', yy as number).attr('text-anchor', 'middle')
        .attr('font-family', FONT).attr('font-size', LABEL).text(t as string);
    });
    [['mean_selene_satellite_latitude', 1379], ['[degrees_north]', 1413]].forEach(([t, xx]) => {
      g2.append('text').attr('transform', `translate(${xx},${(P2.top + P2.bottom) / 2}) rotate(-90)`)
        .attr('text-anchor', 'middle').attr('dominant-baseline', 'central')
        .attr('font-family', FONT).attr('font-size', LABEL).text(t as string);
    });

    // ===== panel 3 =====
    const months = d3.timeMonth.range(new Date(2002, 5, 1), new Date(2012, 4, 1));
    const fmt = d3.timeFormat('%Y-%m-%d');
    const cats = months.map(m => fmt(d3.timeDay.offset(d3.timeMonth.offset(m, 1), -1)));
    const x3 = d3.scaleBand<string>().domain(cats).range([P3.left, P3.right]).paddingInner(0.5).paddingOuter(0.25);
    const y3 = d3.scaleLinear().domain([0, 84]).range([P3.bottom, P3.top]);
    const g3 = svg.append('g');
    g3.append('g').selectAll('rect').data(monthlyCounts).join('rect')
      .attr('x', (d, i) => x3(cats[i]) as number).attr('width', x3.bandwidth())
      .attr('y', d => y3(d)).attr('height', d => y3(0) - y3(d)).attr('fill', BLUE);
    g3.append('rect').attr('x', P3.left).attr('y', P3.top).attr('width', P3.right - P3.left)
      .attr('height', P3.bottom - P3.top).attr('fill', 'none').attr('stroke', '#222').attr('stroke-width', 2.2);
    g3.append('g').attr('transform', `translate(${P3.left},0)`)
      .call(d3.axisLeft(y3).tickValues([0, 20, 40, 60, 80]).tickSize(10).tickPadding(9)).call(styleAxis);
    const tg = g3.append('g');
    barTickLabels.forEach(lbl => {
      const cx = (x3(lbl) as number) + x3.bandwidth() / 2;
      tg.append('line').attr('x1', cx).attr('x2', cx).attr('y1', P3.bottom).attr('y2', P3.bottom + 10)
        .attr('stroke', '#000').attr('stroke-width', 2);
      tg.append('text').attr('transform', `translate(${cx},1335) rotate(-25)`)
        .attr('text-anchor', 'middle').attr('dominant-baseline', 'central')
        .attr('font-family', FONT).attr('font-size', TICK).text(`${lbl} 00:00:00`);
    });
    g3.append('text').attr('x', (P3.left + P3.right) / 2).attr('y', 1446).attr('text-anchor', 'middle')
      .attr('font-family', FONT).attr('font-size', LABEL).text('Time');
    g3.append('text').attr('transform', `translate(40,${(P3.top + P3.bottom) / 2}) rotate(-90)`)
      .attr('text-anchor', 'middle').attr('dominant-baseline', 'central')
      .attr('font-family', FONT).attr('font-size', LABEL).text('# Moon Measurements per week');
  }, []);

  return <svg ref={ref} width={W} height={H} style={{ position: 'absolute', left: 0, top: 0 }} />;
}
